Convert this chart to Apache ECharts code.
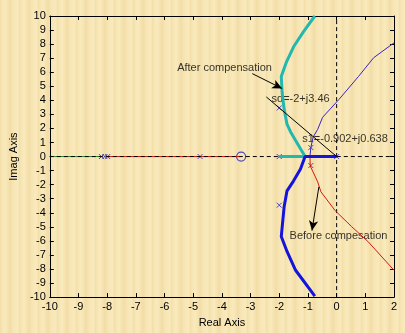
<!DOCTYPE html>
<html>
<head>
<meta charset="utf-8">
<script src="https://cdn.jsdelivr.net/npm/echarts@6/dist/echarts.min.js"></script>
<style>
  html, body { margin: 0; padding: 0; }
  body {
    width: 405px; height: 333px; overflow: hidden;
    background-color: #f7e5b3;
    background-image:
      repeating-linear-gradient(90deg, rgba(214,180,110,0.16) 0px, rgba(214,180,110,0) 2px, rgba(255,248,220,0.25) 5px, rgba(214,180,110,0) 7px, rgba(205,170,100,0.14) 10px, rgba(255,248,220,0) 13px, rgba(255,250,225,0.2) 17px, rgba(255,248,220,0) 19px);
  }
  #chart { width: 405px; height: 333px; }
</style>
</head>
<body>
<div id="chart"></div>
<script>
// axis ticks
const xTicks = [-10, -9, -8, -7, -6, -5, -4, -3, -2, -1, 0, 1, 2]
const yTicks = [-10, -9, -8, -7, -6, -5, -4, -3, -2, -1, 0, 1, 2, 3, 4, 5, 6, 7, 8, 9, 10]

// before compensation (thin)
const beforeUpper = [[-0.93, 0], [-0.9, 0.64], [-0.82, 1.38], [-0.66, 1.94], [-0.49, 2.79], [0.08, 4.06], [0.76, 5.69], [1.29, 7.03], [2.0, 8.09]]
const beforeLower = [[-0.93, 0], [-0.92, -0.67], [-0.66, -1.8], [-0.55, -2.5], [-0.05, -3.85], [0.52, -4.98], [1.09, -6.04], [2.0, -8.09]]
const beforeReal = [[-7.95, 0], [-3.33, 0]]
const farReal = [[-10, 0], [-8.27, 0]]

// after compensation (thick)
const afterUpper = [[-2.0, 0], [-1.1, 0], [-1.6, 1.73], [-1.73, 2.3], [-1.83, 3.36], [-1.9, 4.56], [-1.93, 5.69], [-1.76, 6.68], [-1.5, 7.81], [-1.16, 8.87], [-0.76, 10.0]]
const afterLower = [[0, 0], [-1.1, 0], [-1.26, -0.88], [-1.5, -1.73], [-1.73, -2.44], [-1.83, -3.57], [-1.93, -5.69], [-1.73, -6.75], [-1.43, -8.09], [-0.76, -9.93]]

// markers
const poleMarks = [[-8.2, 0], [-8.08, 0], [-7.98, 0], [-4.76, 0], [-2, 0], [0, 0], [-2, 3.46], [-2, -3.46], [-0.9, 0.64], [-0.9, -0.64]]
const zeroMarks = [[-3.33, 0]]

// reference lines
const zeroH = [[-10, 0], [2, 0]]
const zeroV = [[0, -10], [0, 10]]
const dampLine = [[0, 0], [-2.45, 4.24]]

// annotations
const notes = [
  { text: 'After compensation', at: [-5.56, 6.33] },
  { text: 'sd=-2+j3.46', at: [-2.27, 4.13] },
  { text: 's1=-0.902+j0.638', at: [-1.2, 1.24] },
  { text: 'Before compesation', at: [-1.64, -5.62] }
]
const arrows = [
  [[-2.94, 5.9], [-1.9, 4.84]],
  [[-0.62, -2.16], [-0.86, -5.27]]
]

const font = 'Liberation Sans, Arial, sans-serif'
const xMark = 'path://M0,0L10,10M10,0L0,10'

const chart = echarts.init(document.getElementById('chart'), null, { renderer: 'canvas' })

const axisCommon = {
  type: 'value',
  axisLine: { show: true, onZero: false, lineStyle: { color: '#000', width: 1 } },
  axisTick: { show: true, inside: true, length: 4, lineStyle: { color: '#000' } },
  splitLine: { show: false }
}

const plain = (name, data, color, width, extra) => Object.assign({
  name, type: 'line', data, symbol: 'none', animation: false,
  lineStyle: { color, width }, itemStyle: { color }
}, extra || {})

chart.setOption({
  backgroundColor: 'transparent',
  animation: false,
  grid: { left: 37, right: 11, top: 16, bottom: 34 },
  xAxis: [
    Object.assign({}, axisCommon, {
      min: xTicks[0], max: xTicks[xTicks.length - 1], interval: 1,
      name: 'Real Axis', nameLocation: 'middle', nameGap: 19,
      nameTextStyle: { color: '#000', fontSize: 11, fontFamily: font },
      axisLabel: { color: '#000', fontSize: 11, fontFamily: font, margin: 4 }
    }),
    Object.assign({}, axisCommon, {
      position: 'top', min: xTicks[0], max: xTicks[xTicks.length - 1], interval: 1,
      axisLabel: { show: false }
    })
  ],
  yAxis: [
    Object.assign({}, axisCommon, {
      min: yTicks[0], max: yTicks[yTicks.length - 1], interval: 1,
      name: 'Imag Axis', nameLocation: 'middle', nameGap: 24, nameRotate: 90,
      nameTextStyle: { color: '#000', fontSize: 11, fontFamily: font },
      axisLabel: { color: '#000', fontSize: 11, fontFamily: font, margin: 4 }
    }),
    Object.assign({}, axisCommon, {
      position: 'right', min: yTicks[0], max: yTicks[yTicks.length - 1], interval: 1,
      axisLabel: { show: false }
    })
  ],
  series: [
    plain('far', farReal, '#2a8a2a', 1),
    plain('beforeReal', beforeReal, '#d01a10', 1),
    plain('zeroH', zeroH, '#000', 1, { lineStyle: { color: '#000', width: 1, type: [4, 3] } }),
    plain('zeroV', zeroV, '#000', 1, { lineStyle: { color: '#000', width: 1, type: [4, 3] } }),
    plain('beforeUpper', beforeUpper, '#3a22c4', 1),
    plain('beforeLower', beforeLower, '#d01a10', 1),
    plain('afterUpper', afterUpper, '#22b8b0', 3),
    plain('afterLower', afterLower, '#1414dc', 3),
    plain('damp', dampLine, '#000', 1),
    {
      name: 'poles', type: 'scatter', data: poleMarks, symbol: xMark, symbolSize: 5,
      itemStyle: { color: 'transparent', borderColor: '#2020c8', borderWidth: 1 }
    },
    {
      name: 'zeros', type: 'scatter', data: zeroMarks, symbol: 'circle', symbolSize: 9,
      itemStyle: { color: 'transparent', borderColor: '#2020c8', borderWidth: 1.2 }
    },
    {
      name: 'notes', type: 'scatter', symbolSize: 0,
      data: notes.map(n => ({ value: n.at, name: n.text })),
      label: {
        show: true, position: 'right', distance: 0, formatter: p => p.name,
        color: '#000', fontSize: 11, fontFamily: font
      },
      markLine: {
        silent: true, symbol: ['none', 'arrow'], symbolSize: [7, 10],
        label: { show: false },
        lineStyle: { color: '#000', width: 1, type: 'solid' },
        data: arrows.map(a => [{ coord: a[0] }, { coord: a[1] }])
      }
    }
  ]
})
</script>
</body>
</html>
